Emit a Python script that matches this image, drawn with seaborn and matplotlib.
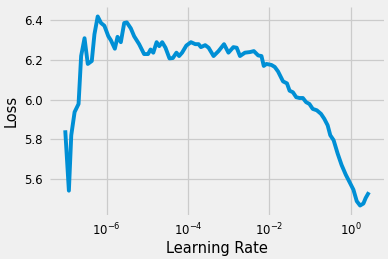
import matplotlib
matplotlib.use("Agg")
import matplotlib.pyplot as plt
import seaborn as sns
import pandas as pd

learning_rates = [
    9.6e-8, 1.18e-7, 1.35e-7, 1.63e-7, 2.04e-7, 2.36e-7, 2.86e-7, 3.44e-7, 4.31e-7, 5.01e-7,
    6.03e-7, 7.26e-7, 8.79e-7, 1.10e-6, 1.27e-6, 1.59e-6, 1.85e-6, 2.23e-6, 2.70e-6, 3.13e-6,
    3.92e-6, 4.74e-6, 6.28e-6, 8.32e-6, 1.04e-5, 1.20e-5, 1.40e-5, 1.69e-5, 1.96e-5, 2.32e-5,
    2.79e-5, 3.50e-5, 4.24e-5, 5.19e-5, 6.03e-5, 7.14e-5, 9.09e-5, 1.18e-4, 1.51e-4, 1.82e-4,
    2.07e-4, 2.64e-4, 3.20e-4, 4.24e-4, 5.61e-4, 7.67e-4, 9.84e-4, 1.30e-3, 1.57e-3, 1.89e-3,
    2.50e-3, 3.31e-3, 4.14e-3, 5.30e-3, 6.38e-3, 7.26e-3, 8.45e-3, 1.12e-2, 1.35e-2, 1.63e-2,
    2.16e-2, 2.70e-2, 3.13e-2, 3.78e-2, 4.56e-2, 5.48e-2, 6.64e-2, 7.98e-2, 9.61e-2, 0.116,
    0.146, 0.185, 0.223, 0.270, 0.313, 0.378, 0.474, 0.593, 0.755, 0.961,
    1.16, 1.40, 1.69, 2.04, 2.32, 2.79,
]
losses = [
    5.845, 5.54, 5.82, 5.937, 5.978, 6.22, 6.31, 6.18, 6.195, 6.33,
    6.42, 6.387, 6.373, 6.32, 6.30, 6.257, 6.317, 6.29, 6.387, 6.39,
    6.36, 6.32, 6.28, 6.23, 6.23, 6.253, 6.237, 6.29, 6.27, 6.29,
    6.262, 6.208, 6.21, 6.237, 6.22, 6.237, 6.273, 6.29, 6.28, 6.28,
    6.265, 6.275, 6.262, 6.22, 6.245, 6.28, 6.237, 6.265, 6.262, 6.22,
    6.237, 6.24, 6.245, 6.223, 6.22, 6.17, 6.18, 6.175, 6.165, 6.142,
    6.092, 6.082, 6.045, 6.037, 6.012, 6.008, 6.008, 5.987, 5.978, 5.953,
    5.946, 5.928, 5.903, 5.87, 5.82, 5.795, 5.728, 5.67, 5.62, 5.578,
    5.545, 5.487, 5.465, 5.475, 5.503, 5.532,
]
x_ticks = [1e-6, 1e-4, 1e-2, 1e0]

plt.style.use("fivethirtyeight")
plt.rcParams["font.family"] = ["DejaVu Sans"]

df = pd.DataFrame({"Learning Rate": learning_rates, "Loss": losses})

fig, ax = plt.subplots(figsize=(3.88, 2.59), dpi=100)
fig.patch.set_facecolor("#f0f0f0")
sns.lineplot(data=df, x="Learning Rate", y="Loss", ax=ax, color="#008fd5",
             linewidth=2.8, sort=False)
ax.set_xscale("log")
ax.set_xticks(x_ticks)
ax.minorticks_off()
ax.set_yticks([5.6, 5.8, 6.0, 6.2, 6.4])
ax.tick_params(labelsize=8.5, length=0, pad=5)
ax.set_xlabel("Learning Rate", fontsize=10.5, labelpad=2)
ax.set_ylabel("Loss", fontsize=10.5, labelpad=4)
ax.grid(True, color="#cbcbcb", linewidth=0.9)
for s in ax.spines.values():
    s.set_visible(False)
fig.subplots_adjust(left=0.129, right=0.990, top=0.973, bottom=0.170)
fig.savefig("out.png", dpi=100, facecolor=fig.get_facecolor())
